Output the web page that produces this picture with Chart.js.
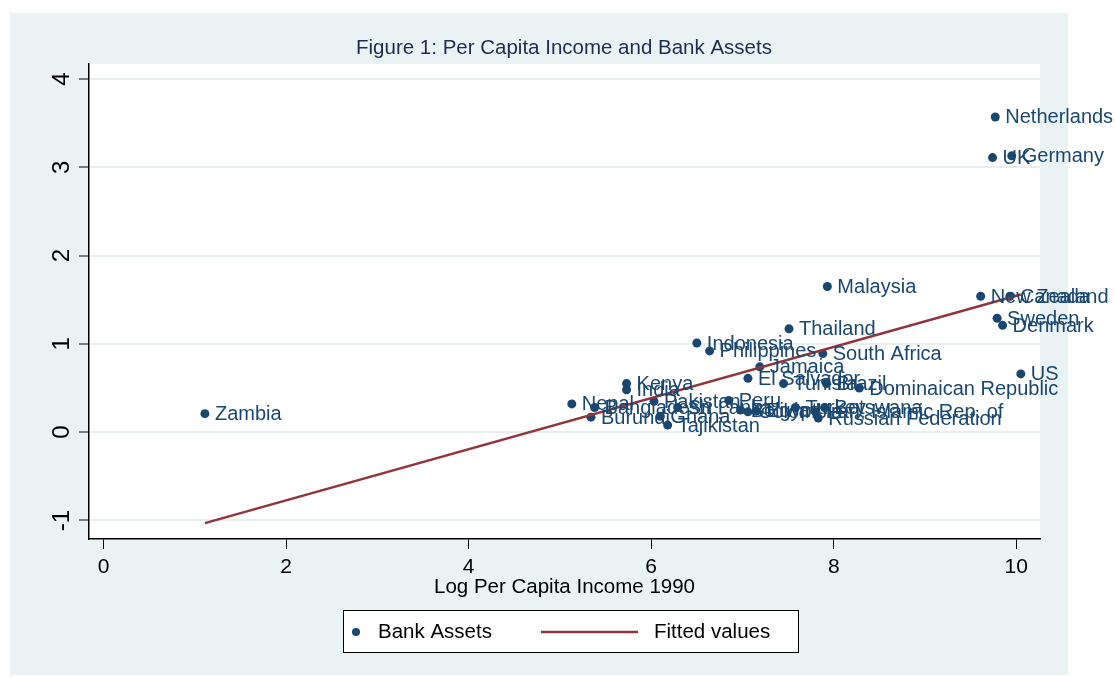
<!DOCTYPE html>
<html>
<head>
<meta charset="utf-8">
<script src="https://cdn.jsdelivr.net/npm/chart.js@4.4.1/dist/chart.umd.min.js"></script>
<style>
html,body{margin:0;padding:0;background:#fff;}
#wrap{width:1115px;height:678px;position:relative;}
</style>
</head>
<body>
<div id="wrap"><canvas id="c" width="1115" height="678"></canvas></div>
<script>
// ---- data ----
const chartTitle = "Figure 1: Per Capita Income and Bank Assets";
const xTitle = "Log Per Capita Income 1990";
const countries = ["Zambia","Nepal","Burundi","Bangladesh","Kenya","India","Pakistan","Ghana","Tajikistan","Sri Lanka",
  "Indonesia","Philippines","Peru","Bolivia","El Salvador","Colombia","Egypt","Jamaica","Tunisia","Thailand",
  "Turkey","South Africa","Brazil","Botswana","Iran, Islamic Rep. of","Russian Federation","Malaysia","Dominaican Republic",
  "New Zealand","UK","Netherlands","Sweden","Denmark","Canada","Germany","US"];
const logIncome = [1.11,5.13,5.34,5.38,5.73,5.73,6.03,6.10,6.18,6.29,
  6.50,6.64,6.85,6.98,7.06,7.06,7.15,7.19,7.45,7.51,
  7.58,7.88,7.92,7.90,7.80,7.83,7.93,8.28,
  9.61,9.74,9.77,9.79,9.85,9.93,9.95,10.05];
const bankAssets = [0.21,0.32,0.17,0.28,0.55,0.48,0.35,0.18,0.08,0.28,
  1.01,0.92,0.36,0.25,0.61,0.23,0.24,0.74,0.55,1.17,
  0.28,0.89,0.55,0.28,0.23,0.16,1.65,0.50,
  1.54,3.11,3.57,1.29,1.21,1.54,3.13,0.66];
const fittedX = [1.11, 10.05];
const fittedY = [-1.03, 1.56];
const xTicks = [0,2,4,6,8,10];
const yTicks = [-1,0,1,2,3,4];
const seriesNames = ["Bank Assets","Fitted values"];

// ---- styles ----
const NAVY = "#1a476f";
const MAROON = "#90353b";
const BG = "#eaf2f3";
const FONT = "'Liberation Sans', Arial, sans-serif";

const scatterPts = logIncome.map((x,i)=>({x:x, y:bankAssets[i]}));
const fitPts = fittedX.map((x,i)=>({x:x, y:fittedY[i]}));

const decor = {
  id:'decor',
  beforeDraw(chart){
    const ctx = chart.ctx, a = chart.chartArea;
    ctx.save();
    ctx.fillStyle = '#ffffff';
    ctx.fillRect(0,0,chart.width,chart.height);
    ctx.fillStyle = BG;
    ctx.fillRect(10,13,1058,662);
    ctx.fillStyle = '#ffffff';
    ctx.fillRect(a.left,a.top,a.right-a.left,a.bottom-a.top);
    // title
    ctx.fillStyle = '#1c2d4f';
    ctx.font = "20.5px " + FONT;
    ctx.textAlign = 'center';
    ctx.textBaseline = 'middle';
    ctx.fillText(chartTitle, 564, 48);
    ctx.restore();
  },
  afterDatasetsDraw(chart){
    const ctx = chart.ctx;
    const xs = chart.scales.x, ys = chart.scales.y;
    ctx.save();
    // point labels
    ctx.fillStyle = NAVY;
    ctx.font = "20px " + FONT;
    ctx.textAlign = 'left';
    ctx.textBaseline = 'middle';
    countries.forEach((n,i)=>{
      const px = xs.getPixelForValue(logIncome[i]);
      const py = ys.getPixelForValue(bankAssets[i]);
      ctx.fillText(n, px+10, py+1);
    });
    ctx.restore();
  },
  afterDraw(chart){
    const ctx = chart.ctx;
    const ys = chart.scales.y;
    ctx.save();
    // rotated y tick labels
    ctx.fillStyle = '#000';
    ctx.font = "24px " + FONT;
    ctx.textAlign = 'center';
    ctx.textBaseline = 'middle';
    yTicks.forEach(v=>{
      const py = ys.getPixelForValue(v);
      ctx.save();
      ctx.translate(62, py);
      ctx.rotate(-Math.PI/2);
      ctx.fillText(String(v), 0, 0);
      ctx.restore();
    });
    // legend
    const lx=343, ly=610, lw=455, lh=42;
    ctx.fillStyle = '#fff';
    ctx.fillRect(lx,ly,lw,lh);
    ctx.strokeStyle = '#000';
    ctx.lineWidth = 1;
    ctx.strokeRect(lx+0.5,ly+0.5,lw,lh);
    const cy = ly + lh/2 + 1;
    ctx.fillStyle = NAVY;
    ctx.beginPath(); ctx.arc(356, cy, 4, 0, Math.PI*2); ctx.fill();
    ctx.fillStyle = '#000';
    ctx.font = "20.5px " + FONT;
    ctx.textAlign = 'left';
    ctx.textBaseline = 'middle';
    ctx.fillText(seriesNames[0], 378, cy);
    ctx.strokeStyle = MAROON;
    ctx.lineWidth = 2.5;
    ctx.beginPath(); ctx.moveTo(541, cy); ctx.lineTo(638, cy); ctx.stroke();
    ctx.fillText(seriesNames[1], 654, cy);
    ctx.restore();
  }
};

new Chart(document.getElementById('c'), {
  type: 'scatter',
  data: {
    datasets: [
      { label: seriesNames[0], data: scatterPts, backgroundColor: NAVY, borderColor: NAVY,
        pointRadius: 4.5, pointHoverRadius: 4.5, borderWidth: 0, order: 2 },
      { label: seriesNames[1], type: 'line', data: fitPts, borderColor: MAROON, backgroundColor: MAROON,
        borderWidth: 2.5, pointRadius: 0, fill: false, order: 1 }
    ]
  },
  plugins: [decor],
  options: {
    responsive: false,
    animation: false,
    devicePixelRatio: 1,
    layout: { padding: { left: 10, top: 64, right: 75, bottom: 78 } },
    plugins: { legend: { display: false }, tooltip: { enabled: false }, title: { display: false } },
    scales: {
      x: {
        type: 'linear', min: -0.16, max: 10.26,
        afterBuildTicks: s => { s.ticks = xTicks.map(v=>({value:v})); },
        afterFit: s => { s.height = 61; },
        grid: { drawOnChartArea: false, drawTicks: true, tickLength: 10, tickColor: '#000', tickWidth: 1 },
        border: { display: true, color: '#000', width: 1.5 },
        ticks: { color: '#000', font: { family: FONT, size: 21 }, padding: 6, maxRotation: 0 },
        title: { display: true, text: xTitle, color: '#000', font: { family: FONT, size: 20.5 }, padding: { top: 0, bottom: 0 } }
      },
      y: {
        type: 'linear', min: -1.21, max: 4.17,
        afterBuildTicks: s => { s.ticks = yTicks.map(v=>({value:v})); },
        afterFit: s => { s.width = 79; },
        grid: { color: '#e6eef0', lineWidth: 2, drawTicks: true, tickLength: 10, tickColor: '#000', tickWidth: 1 },
        border: { display: true, color: '#000', width: 1.5 },
        ticks: { display: false }
      }
    }
  }
});
</script>
</body>
</html>
